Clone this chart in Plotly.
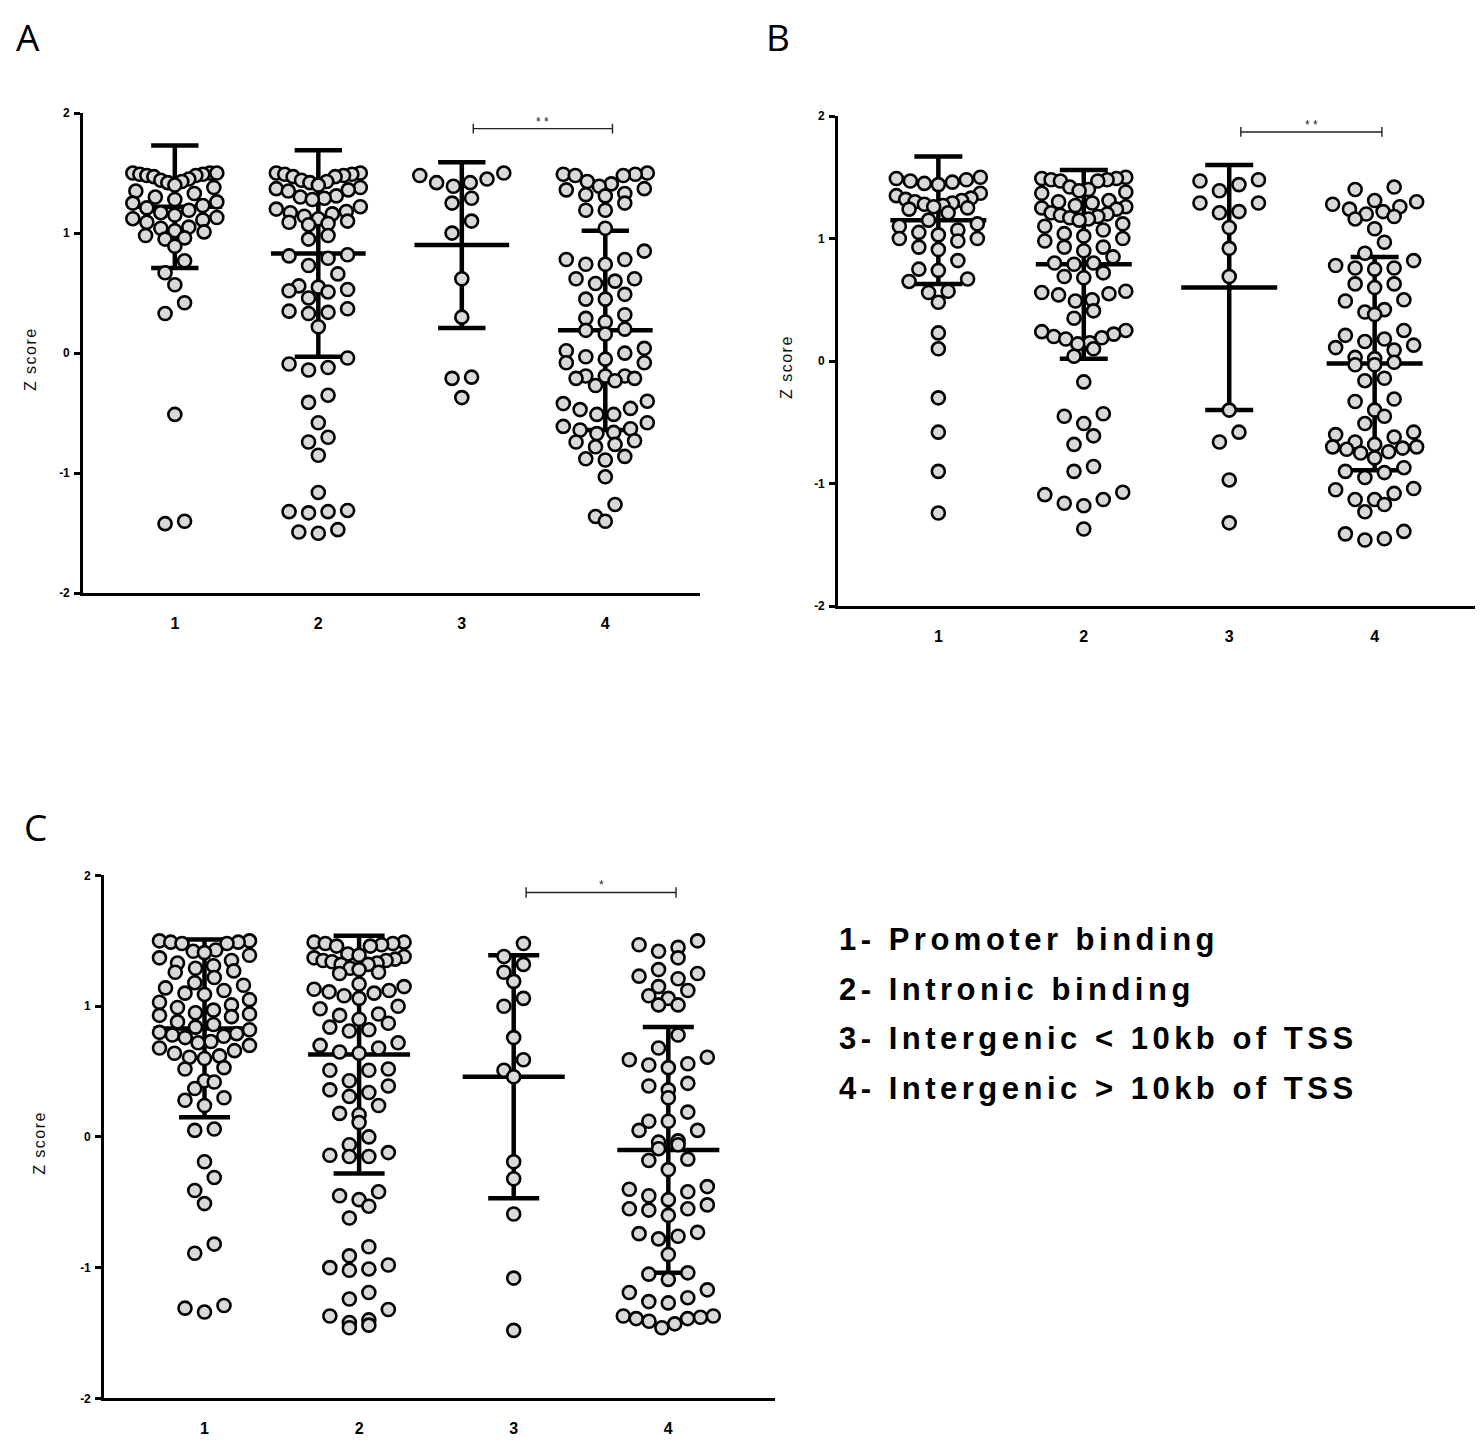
import numpy as np
import plotly.graph_objects as go

# page has an 8px body margin, so the figure is drawn 8px in from the window edge
PAGE_W, PAGE_H = 1484, 1447
OFF = 8
W, H = PAGE_W - 2 * OFF, PAGE_H - 2 * OFF

categories = [1, 2, 3, 4]
cat_labels = ["1", "2", "3", "4"]
y_ticks = [-2, -1, 0, 1, 2]
y_ticklabels = ["-2", "-1", "0", "1", "2"]
legend_lines = ["1- Promoter binding", "2- Intronic binding",
                "3- Intergenic < 10kb of TSS", "4- Intergenic > 10kb of TSS"]

# ---------------- Panel A ----------------
A1 = [1.50, 1.50, 1.50, 1.49, 1.49, 1.48, 1.48, 1.47,
      1.45, 1.44, 1.43, 1.42, 1.40, 1.38,
      1.35, 1.33, 1.30, 1.28,
      1.26, 1.25, 1.23, 1.21, 1.19, 1.17, 1.15, 1.13, 1.12, 1.11,
      1.09, 1.05, 1.04, 1.02, 1.01, 0.98, 0.96, 0.95,
      0.89, 0.77, 0.67, 0.57, 0.42, 0.33, -0.51, -1.40, -1.42]
A2 = [1.50, 1.50, 1.49, 1.49, 1.48, 1.47, 1.47,
      1.44, 1.43, 1.42, 1.40, 1.38, 1.37, 1.36, 1.35,
      1.31, 1.30, 1.29, 1.28,
      1.22, 1.20, 1.18,
      1.17, 1.16, 1.14, 1.12, 1.10, 1.09, 1.08, 1.07,
      0.98, 0.95, 0.82, 0.81, 0.79, 0.73, 0.66,
      0.56, 0.55, 0.53, 0.52, 0.51, 0.46,
      0.37, 0.35, 0.34, 0.33, 0.22,
      -0.04, -0.09, -0.12, -0.14,
      -0.35, -0.41, -0.58, -0.70, -0.74, -0.85, -1.16,
      -1.31, -1.32, -1.32, -1.33, -1.47, -1.49, -1.50]
A3 = [1.50, 1.48, 1.45, 1.42, 1.42, 1.39, 1.29, 1.25, 1.10, 1.00,
      0.62, 0.30, -0.20, -0.21, -0.37]
A4 = [1.50, 1.49, 1.49, 1.48, 1.48,
      1.43, 1.41, 1.39, 1.37, 1.36, 1.33, 1.32, 1.31,
      1.25, 1.19, 1.19, 1.04,
      0.85, 0.78, 0.78, 0.74, 0.74,
      0.62, 0.62, 0.60, 0.58, 0.49, 0.45, 0.45,
      0.32, 0.29, 0.26, 0.20, 0.19, 0.16,
      0.04, 0.02, 0.00, -0.03, -0.05, -0.08, -0.08,
      -0.19, -0.19, -0.19, -0.21, -0.21, -0.23, -0.27,
      -0.40, -0.42, -0.46, -0.47, -0.51, -0.51,
      -0.58, -0.61, -0.63, -0.64, -0.66, -0.67,
      -0.73, -0.74, -0.76, -0.78,
      -0.86, -0.88, -0.89, -1.03, -1.26, -1.36, -1.40]
A_mean = [1.22, 0.83, 0.90, 0.19]
A_sd = [0.51, 0.86, 0.69, 0.83]

# ---------------- Panel B ----------------
B1 = [1.50, 1.49, 1.48, 1.47, 1.46, 1.45, 1.44,
      1.37, 1.35, 1.33, 1.32, 1.31, 1.30, 1.29, 1.28, 1.27, 1.26, 1.25, 1.24, 1.21,
      1.15, 1.12, 1.10, 1.07, 1.05, 1.03, 1.00, 1.00, 0.98,
      0.93, 0.91, 0.82, 0.75, 0.74, 0.67, 0.65, 0.57, 0.56, 0.48, 0.23, 0.10,
      -0.30, -0.58, -0.90, -1.24]
B2 = [1.50, 1.49, 1.49, 1.48, 1.48, 1.47, 1.47,
      1.42, 1.40, 1.39, 1.38, 1.37,
      1.31, 1.30, 1.29, 1.27, 1.26, 1.25, 1.24,
      1.21, 1.20, 1.19, 1.18, 1.17, 1.16, 1.15,
      1.12, 1.10, 1.07, 1.04, 1.02, 1.00, 0.98,
      0.93, 0.93, 0.90, 0.85,
      0.80, 0.80, 0.79, 0.72, 0.69, 0.68,
      0.57, 0.56, 0.55, 0.54, 0.50, 0.49,
      0.41, 0.35,
      0.25, 0.24, 0.22, 0.20, 0.19, 0.18, 0.15, 0.14,
      0.10, 0.04,
      -0.17, -0.43, -0.45, -0.51, -0.61, -0.68, -0.86, -0.90,
      -1.07, -1.09, -1.13, -1.16, -1.18, -1.37]
B3 = [1.48, 1.47, 1.44, 1.39, 1.29, 1.29, 1.22, 1.21, 1.09, 0.92, 0.69,
      -0.40, -0.58, -0.66, -0.97, -1.32]
B4 = [1.42, 1.40,
      1.31, 1.30, 1.28, 1.26, 1.24, 1.22, 1.20, 1.18, 1.16,
      1.08, 0.97, 0.88,
      0.82, 0.78, 0.76, 0.76, 0.75,
      0.63, 0.63, 0.60, 0.50, 0.49, 0.42, 0.40, 0.38,
      0.25, 0.21, 0.18, 0.16, 0.13, 0.11,
      0.09, 0.03, 0.02, -0.01, -0.03, -0.03,
      -0.14, -0.16, -0.31, -0.33, -0.40, -0.45, -0.51,
      -0.58, -0.60, -0.62, -0.66, -0.68, -0.70, -0.70, -0.71, -0.72, -0.74, -0.75,
      -0.79, -0.87, -0.90, -0.91, -0.95,
      -1.04, -1.05, -1.08, -1.13, -1.13, -1.17, -1.23,
      -1.39, -1.41, -1.45, -1.46]
B_mean = [1.15, 0.79, 0.60, -0.02]
B_sd = [0.52, 0.77, 1.00, 0.87]

# ---------------- Panel C ----------------
C1 = [1.50, 1.50, 1.49, 1.49, 1.48, 1.48,
      1.43, 1.42, 1.41, 1.39, 1.37, 1.35, 1.33, 1.31, 1.29, 1.27, 1.26,
      1.22, 1.18, 1.16, 1.14, 1.12, 1.10, 1.09,
      1.05, 1.03, 1.01, 0.99, 0.97, 0.95, 0.94, 0.93, 0.92,
      0.88, 0.86, 0.84, 0.82, 0.80, 0.79, 0.78, 0.77, 0.76,
      0.73, 0.72, 0.70, 0.68, 0.66, 0.64, 0.62, 0.61, 0.60,
      0.53, 0.52, 0.43, 0.42, 0.37, 0.30, 0.28, 0.24,
      0.06, 0.05, -0.19, -0.31, -0.41, -0.51, -0.82, -0.89, -1.29, -1.31, -1.34]
C2 = [1.49, 1.49, 1.48, 1.48, 1.47, 1.46, 1.46,
      1.40, 1.39, 1.38, 1.37, 1.36, 1.35, 1.35, 1.34, 1.33, 1.32, 1.32,
      1.29, 1.28, 1.26, 1.25,
      1.17, 1.15, 1.13, 1.12, 1.11, 1.10, 1.08, 1.06,
      1.00, 0.98, 0.94, 0.93, 0.90, 0.87, 0.84, 0.82, 0.81,
      0.72, 0.70, 0.68, 0.65, 0.64,
      0.52, 0.51, 0.51,
      0.43, 0.39, 0.36, 0.34, 0.31,
      0.24, 0.18, 0.17, 0.11, 0.00,
      -0.06, -0.12, -0.14, -0.15, -0.15,
      -0.42, -0.45, -0.48, -0.53, -0.62, -0.84,
      -0.91, -0.98, -1.00, -1.01, -1.02, -1.19, -1.24,
      -1.32, -1.37, -1.40, -1.42, -1.44, -1.46]
C3 = [1.48, 1.38, 1.32, 1.26, 1.19, 1.06, 1.00, 0.76, 0.59, 0.51, 0.46,
      -0.19, -0.32, -0.59, -1.08, -1.48]
C4 = [1.50, 1.47, 1.45, 1.42, 1.37,
      1.28, 1.25, 1.23, 1.21, 1.15,
      1.12, 1.08, 1.06, 1.01, 1.01,
      0.78, 0.68, 0.61, 0.59, 0.56, 0.55, 0.53,
      0.41, 0.39, 0.36, 0.30,
      0.19, 0.12, 0.12, 0.05, 0.05,
      -0.03, -0.04, -0.06, -0.09, -0.17, -0.18, -0.25,
      -0.38, -0.40, -0.42, -0.45, -0.48, -0.52, -0.55, -0.55, -0.56, -0.60,
      -0.73, -0.74, -0.76, -0.78, -0.90,
      -1.04, -1.05, -1.09,
      -1.17, -1.19, -1.23, -1.26, -1.27,
      -1.37, -1.37, -1.38, -1.39, -1.39, -1.41, -1.43, -1.46]
C_mean = [0.83, 0.63, 0.46, -0.10]
C_sd = [0.68, 0.91, 0.93, 0.94]

significance = {"A": "* *", "B": "* *", "C": "*"}

# ---------------- layout geometry (window pixels) ----------------
panels = [
    dict(name="A", groups=[A1, A2, A3, A4], mean=A_mean, sd=A_sd,
         box=(83, 700, 107, 592), xr=(0.36, 4.66), ax="", letter=(28, 30), ytitle_x=30, half=42),
    dict(name="B", groups=[B1, B2, B3, B4], mean=B_mean, sd=B_sd,
         box=(838, 1475, 110, 605), xr=(0.31, 4.69), ax="2", letter=(778, 30), ytitle_x=786, half=42),
    dict(name="C", groups=[C1, C2, C3, C4], mean=C_mean, sd=C_sd,
         box=(104, 775, 877, 1405), xr=(0.35, 4.69), ax="3", letter=(35, 828), ytitle_x=40, half=45),
]

ROW_H = 14.0   # px height of one row of dots
SLOT = 19.5    # px spacing of dots inside a row (compressed when crowded)


def row_swarm(vals, ppx, ppy, half):
    """Column-scatter layout: group values into rows, spread each row
    symmetrically, lowest values in the middle of a row."""
    order = sorted(range(len(vals)), key=lambda i: -vals[i])
    rows, cur, start = [], [], None
    for i in order:
        v = vals[i] * ppy
        if start is None or start - v >= ROW_H:
            if cur:
                rows.append(cur)
            cur, start = [i], v
        else:
            cur.append(i)
    if cur:
        rows.append(cur)
    out = [0.0] * len(vals)
    for r in rows:
        n = len(r)
        s = SLOT if n == 1 else min(SLOT, 2 * half / (n - 1))
        slots = [(k - (n - 1) / 2) * s for k in range(n)]
        slots.sort(key=lambda o: (round(abs(o), 6), o))
        members = sorted(r, key=lambda i: vals[i])
        for i, o in zip(members, slots):
            out[i] = o / ppx
    return out


def fx(px):
    return (px - OFF) / W


def fy(py):
    return 1 - (py - OFF) / H


fig = go.Figure()
FONT = "Liberation Sans, Arial, sans-serif"
layout = dict(width=W, height=H, autosize=False, paper_bgcolor="white",
              plot_bgcolor="white", showlegend=False,
              margin=dict(l=0, r=0, t=0, b=0),
              font=dict(family=FONT, color="black"))
annotations = []

for p in panels:
    left, right, top, bottom = p["box"]
    xr = p["xr"]
    ppx = (right - left) / (xr[1] - xr[0])
    ppy = (bottom - top) / 4.0
    xa, ya = "x" + p["ax"], "y" + p["ax"]

    # error bars (mean +- SD), drawn first so dots lie on top
    ex, ey = [], []
    for c, m, s in zip(categories, p["mean"], p["sd"]):
        ex += [c, c, None, c - 0.165, c + 0.165, None, c - 0.165, c + 0.165, None,
               c - 0.33, c + 0.33, None]
        ey += [m - s, m + s, None, m + s, m + s, None, m - s, m - s, None, m, m, None]
    fig.add_trace(go.Scatter(x=ex, y=ey, mode="lines", xaxis=xa, yaxis=ya,
                             line=dict(color="black", width=4.5), hoverinfo="skip",
                             cliponaxis=False))

    for c, vals in zip(categories, p["groups"]):
        offs = row_swarm(vals, ppx, ppy, p["half"])
        fig.add_trace(go.Scatter(
            x=[c + o for o in offs], y=vals, mode="markers", xaxis=xa, yaxis=ya,
            marker=dict(size=13, color="#d9d9d9", line=dict(color="black", width=2.6)),
            cliponaxis=False))

    # significance bracket between groups 3 and 4
    x0, x1, yb = 3.08, 4.05, 1.87
    fig.add_trace(go.Scatter(
        x=[x0, x1, None, x0, x0, None, x1, x1],
        y=[yb, yb, None, yb - 0.04, yb + 0.04, None, yb - 0.04, yb + 0.04],
        mode="lines", xaxis=xa, yaxis=ya, line=dict(color="#222", width=1.4),
        hoverinfo="skip", cliponaxis=False))
    annotations.append(dict(x=(x0 + x1) / 2, y=yb, xref=xa, yref=ya, text=significance[p["name"]],
                            showarrow=False, yanchor="bottom", xanchor="center", yshift=-2,
                            font=dict(size=12, family=FONT, color="#222")))

    key_x = "xaxis" + p["ax"]
    key_y = "yaxis" + p["ax"]
    layout[key_x] = dict(domain=[fx(left), fx(right)], range=list(xr), anchor=ya,
                         showline=True, linecolor="black", linewidth=2.6,
                         showgrid=False, zeroline=False, ticks="",
                         tickvals=categories, ticktext=cat_labels,
                         ticklabelstandoff=14,
                         tickfont=dict(size=16, family=FONT, weight="bold", color="black"))
    layout[key_y] = dict(domain=[fy(bottom), fy(top)], range=[-2, 2], anchor=xa,
                         showline=True, linecolor="black", linewidth=2.6,
                         showgrid=False, zeroline=False, ticks="outside",
                         ticklen=6, tickwidth=2.6, tickcolor="black",
                         tickvals=y_ticks, ticktext=y_ticklabels, ticklabelstandoff=2,
                         tickfont=dict(size=12, family=FONT, weight="bold", color="black"))

    # y axis title
    annotations.append(dict(x=fx(p["ytitle_x"]), y=fy((top + bottom) / 2 + 6), xref="paper", yref="paper",
                            text='<span style="letter-spacing:1.5px">Z score</span>', textangle=-90,
                            showarrow=False, xanchor="center", yanchor="middle",
                            font=dict(size=16, family=FONT, color="#111")))
    # panel letter
    lx, ly = p["letter"]
    annotations.append(dict(x=fx(lx), y=fy(ly), xref="paper", yref="paper",
                            text=p["name"], showarrow=False, xanchor="center", yanchor="middle",
                            font=dict(size=37, family="Open Sans, sans-serif", color="black")))

# group legend text
for k, line in enumerate(legend_lines):
    annotations.append(dict(x=fx(837), y=fy(942 + 50 * k), xref="paper", yref="paper",
                            text='<span style="letter-spacing:4.5px">'
                                 + line.replace("<", "&lt;").replace(">", "&gt;") + '</span>',
                            showarrow=False, xanchor="left", yanchor="middle",
                            font=dict(size=31, family=FONT, weight="bold", color="black")))

layout["annotations"] = annotations
fig.update_layout(**layout)
fig.write_html("out.html")
